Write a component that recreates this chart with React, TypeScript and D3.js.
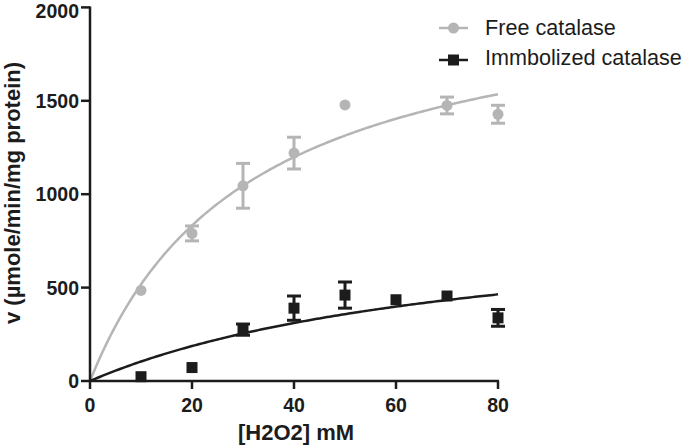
import React from "react";
import * as d3 from "d3";

const W = 685;
const H = 447;

const xTicks = [0, 20, 40, 60, 80];
const yTicks = [0, 500, 1000, 1500, 2000];

// Free catalase
const freeX = [10, 20, 30, 40, 50, 70, 80];
const freeY = [485, 790, 1045, 1220, 1478, 1475, 1428];
const freeErr = [0, 40, 120, 85, 0, 45, 48];
const freeVmax = 2136;
const freeKm = 31.3;

// Immobilized catalase
const immX = [10, 20, 30, 40, 50, 60, 70, 80];
const immY = [23, 72, 275, 390, 460, 435, 455, 338];
const immErr = [0, 0, 30, 65, 70, 0, 0, 45];
const immVmax = 916;
const immKm = 78;

const seriesNames = ["Free catalase", "Immbolized catalase"];

const GRAY = "#b5b5b5";
const BLACK = "#1c1c1c";
const FONT = "'Liberation Sans', Arial, Helvetica, sans-serif";

export default function App() {
  const x = d3.scaleLinear().domain([0, 80]).range([90, 498]);
  const y = d3.scaleLinear().domain([0, 2000]).range([381, 7.4]);

  const mm = (vmax: number, km: number) => {
    const xs = d3.range(0, 80.01, 0.5);
    return d3
      .line<number>()
      .x((d) => x(d))
      .y((d) => y((vmax * d) / (km + d)))(xs) as string;
  };

  const errBars = (xs: number[], ys: number[], es: number[], color: string) =>
    xs.map((xv, i) =>
      es[i] > 0 ? (
        <g key={"e" + i} stroke={color} strokeWidth={3}>
          <line x1={x(xv)} x2={x(xv)} y1={y(ys[i] - es[i])} y2={y(ys[i] + es[i])} />
          <line x1={x(xv) - 7} x2={x(xv) + 7} y1={y(ys[i] + es[i])} y2={y(ys[i] + es[i])} />
          <line x1={x(xv) - 7} x2={x(xv) + 7} y1={y(ys[i] - es[i])} y2={y(ys[i] - es[i])} />
        </g>
      ) : null
    );

  return (
    <svg width={W} height={H} style={{ position: "absolute", left: 0, top: 0, background: "#fff" }}>
      {/* curves */}
      <path d={mm(freeVmax, freeKm)} fill="none" stroke={GRAY} strokeWidth={2.5} />
      <path d={mm(immVmax, immKm)} fill="none" stroke={BLACK} strokeWidth={2.5} />

      {/* free catalase */}
      {errBars(freeX, freeY, freeErr, GRAY)}
      {freeX.map((xv, i) => (
        <circle key={"f" + i} cx={x(xv)} cy={y(freeY[i])} r={5.5} fill={GRAY} />
      ))}

      {/* immobilized */}
      {errBars(immX, immY, immErr, BLACK)}
      {immX.map((xv, i) => (
        <rect key={"m" + i} x={x(xv) - 5.5} y={y(immY[i]) - 5.5} width={11} height={11} fill={BLACK} />
      ))}

      {/* axes */}
      <g stroke={BLACK} strokeWidth={2.5} fill="none">
        <line x1={x(0)} x2={x(80) + 1} y1={y(0)} y2={y(0)} />
        <line x1={x(0)} x2={x(0)} y1={y(0) + 1} y2={y(2000) - 1} />
        {xTicks.map((t) => (
          <line key={"xt" + t} x1={x(t)} x2={x(t)} y1={y(0)} y2={y(0) + 8} />
        ))}
        {yTicks.map((t) => (
          <line key={"yt" + t} x1={x(0) - 9} x2={x(0)} y1={y(t)} y2={y(t)} />
        ))}
      </g>
      <g fontFamily={FONT} fontWeight="bold" fontSize={19.5} fill={BLACK}>
        {xTicks.map((t) => (
          <text key={"xl" + t} x={x(t)} y={412} textAnchor="middle">
            {t}
          </text>
        ))}
        {yTicks.map((t) => (
          <text key={"yl" + t} x={79} y={Math.max(y(t), 10.5)} dy="0.36em" textAnchor="end">
            {t}
          </text>
        ))}
      </g>
      <text x={296} y={440} textAnchor="middle" fontFamily={FONT} fontWeight="bold" fontSize={22} fill={BLACK}>
        [H2O2] mM
      </text>
      <text
        transform="translate(20,193) rotate(-90)"
        textAnchor="middle"
        fontFamily={FONT}
        fontWeight="bold"
        fontSize={22}
        fill={BLACK}
      >
        v (µmole/min/mg protein)
      </text>

      {/* legend */}
      <g fontFamily={FONT} fontSize={21.6} fill={BLACK}>
        <line x1={439} x2={468} y1={28} y2={28} stroke={GRAY} strokeWidth={2.5} />
        <circle cx={453.5} cy={28} r={5.5} fill={GRAY} />
        <text x={485} y={35}>{seriesNames[0]}</text>
        <line x1={439} x2={468} y1={60} y2={60} stroke={BLACK} strokeWidth={2.5} />
        <rect x={448} y={54.5} width={11} height={11} fill={BLACK} />
        <text x={485} y={65}>{seriesNames[1]}</text>
      </g>
    </svg>
  );
}
